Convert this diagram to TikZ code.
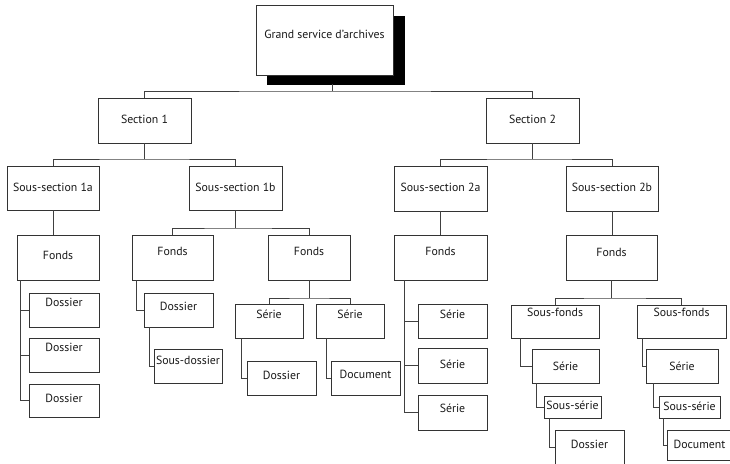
\documentclass[tikz,border=0pt]{standalone}
\usepackage{fontspec}
\setmainfont{PT Sans}
\tikzset{
  box/.style={draw=black!80,line width=0.75pt,fill=white,inner sep=0pt,outer sep=0pt,anchor=north west},
  txt/.style={inner sep=0pt,text=black!90,font=\fontsize{11.8}{14}\selectfont},
  conn/.style={draw=black!75,line width=0.75pt}
}
\newcommand\mybox[7]{%
  \node[box,minimum width={(#4)-(#2)},minimum height={(#5)-(#3)}] (#1) at (#2,#3) {};%
  \node[txt] (#1t) at ({((#2)+(#4))/2},#6) {#7};}
\begin{document}
\begin{tikzpicture}[x=1pt,y=-1pt]
\path[use as bounding box, clip] (0,0) rectangle (730,463);
% top
\node[box,fill=black,draw=black,minimum width=137,minimum height=68] (shadow) at (267,16) {};
\mybox{top}{256}{5}{393}{75}{34.5}{Grand service d'archives}
% sections
\mybox{s1}{98}{98}{191}{143}{119.5}{Section 1}
\mybox{s2}{486}{98}{579}{143}{119.5}{Section 2}
% sub-sections
\mybox{ss1a}{7}{166}{99}{210}{187.5}{Sous-section 1a}
\mybox{ss1b}{189}{166}{282}{210}{187.5}{Sous-section 1b}
\mybox{ss2a}{394}{166}{487}{211}{187}{Sous-section 2a}
\mybox{ss2b}{566}{166}{658}{211}{187}{Sous-section 2b}
% fonds
\mybox{f1a}{17}{235}{99}{280}{255}{Fonds}
\mybox{f1b1}{132}{235}{213}{280}{251}{Fonds}
\mybox{f1b2}{268}{235}{350}{280}{251}{Fonds}
\mybox{f2a}{394}{235}{487}{280}{251.5}{Fonds}
\mybox{f2b}{566}{235}{657}{280}{252}{Fonds}
% 1a
\mybox{d1}{29}{293}{99}{327}{302}{Dossier}
\mybox{d2}{29}{338}{99}{372}{347}{Dossier}
\mybox{d3}{29}{384}{99}{417}{398}{Dossier}
% 1b first
\mybox{d1b}{144}{293}{213}{327}{306}{Dossier}
\mybox{sd1b}{154}{349}{222}{383}{360}{Sous-dossier}
% 1b second
\mybox{se1}{235}{304}{303}{338}{314}{Série}
\mybox{se2}{316}{304}{384}{338}{314}{Série}
\mybox{d1b2}{247}{361}{316}{395}{375}{Dossier}
\mybox{doc1b2}{331}{361}{400}{395}{374}{Document}
% 2a
\mybox{se2a1}{418}{304}{487}{338}{314}{Série}
\mybox{se2a2}{418}{348}{487}{383}{364}{Série}
\mybox{se2a3}{418}{395}{487}{430}{408}{Série}
% 2b
\mybox{sfL}{511}{305}{599}{338}{312.5}{Sous-fonds}
\mybox{sfR}{637}{305}{726}{338}{312.5}{Sous-fonds}
\mybox{seL}{532}{349}{599}{383}{366}{Série}
\mybox{seR}{646}{349}{718}{383}{366}{Série}
\mybox{ssL}{544}{396}{601}{418}{405.5}{Sous-série}
\mybox{ssR}{659}{396}{720}{418}{406}{Sous-série}
\mybox{dL}{555}{430}{624}{464}{444}{Dossier}
\mybox{docR}{667}{430}{732}{460}{444}{Document}
% connectors
\draw[conn] ([xshift=-3.5pt]shadow.south) -- ++(0,7) coordinate (b0);
\draw[conn] (s1.north) |- (b0) -| (s2.north);
\draw[conn] (s1.south) -- ++(0,16) coordinate (b1);
\draw[conn] (ss1a.north) |- (b1) -| (ss1b.north);
\draw[conn] (s2.south) -- ++(0,16) coordinate (b2);
\draw[conn] (ss2a.north) |- (b2) -| (ss2b.north);
\draw[conn] (ss1a.south) -- (ss1a.south |- f1a.north);
\draw[conn] (ss1b.south) -- ++(0,18) coordinate (b3);
\draw[conn] (f1b1.north) |- (b3) -| (f1b2.north);
\draw[conn] (ss2a.south) -- (f2a.north);
\draw[conn] (ss2b.south) -- (ss2b.south |- f2b.north);
% 1a tree
\draw[conn] ([xshift=3.5pt]f1a.south west) |- (d1.west);
\draw[conn] ([xshift=3.5pt]f1a.south west) |- (d2.west);
\draw[conn] ([xshift=3.5pt]f1a.south west) |- (d3.west);
% 1b first
\draw[conn] ([xshift=4pt]f1b1.south west) |- (d1b.west);
\draw[conn] ([xshift=5pt]d1b.south west) |- (sd1b.west);
% 1b second
\draw[conn] (f1b2.south) -- ++(0,18) coordinate (b4);
\draw[conn] (se1.north) |- (b4) -| (se2.north);
\draw[conn] ([xshift=6pt]se1.south west) |- (d1b2.west);
\draw[conn] ([xshift=10pt]se2.south west) |- (doc1b2.west);
% 2a tree
\draw[conn] ([xshift=10pt]f2a.south west) |- (se2a1.west);
\draw[conn] ([xshift=10pt]f2a.south west) |- (se2a2.west);
\draw[conn] ([xshift=10pt]f2a.south west) |- (se2a3.west);
% 2b
\draw[conn] (f2b.south) -- ++(0,18) coordinate (b5);
\draw[conn] (sfL.north) |- (b5) -| (sfR.north);
\draw[conn] ([xshift=9pt]sfL.south west) |- (seL.west);
\draw[conn] ([xshift=4pt]seL.south west) |- (ssL.west);
\draw[conn] ([xshift=5pt]ssL.south west) |- (dL.west);
\draw[conn] ([xshift=5pt]sfR.south west) |- (seR.west);
\draw[conn] ([xshift=7pt]seR.south west) |- (ssR.west);
\draw[conn] ([xshift=4pt]ssR.south west) |- (docR.west);
\end{tikzpicture}
\end{document}
